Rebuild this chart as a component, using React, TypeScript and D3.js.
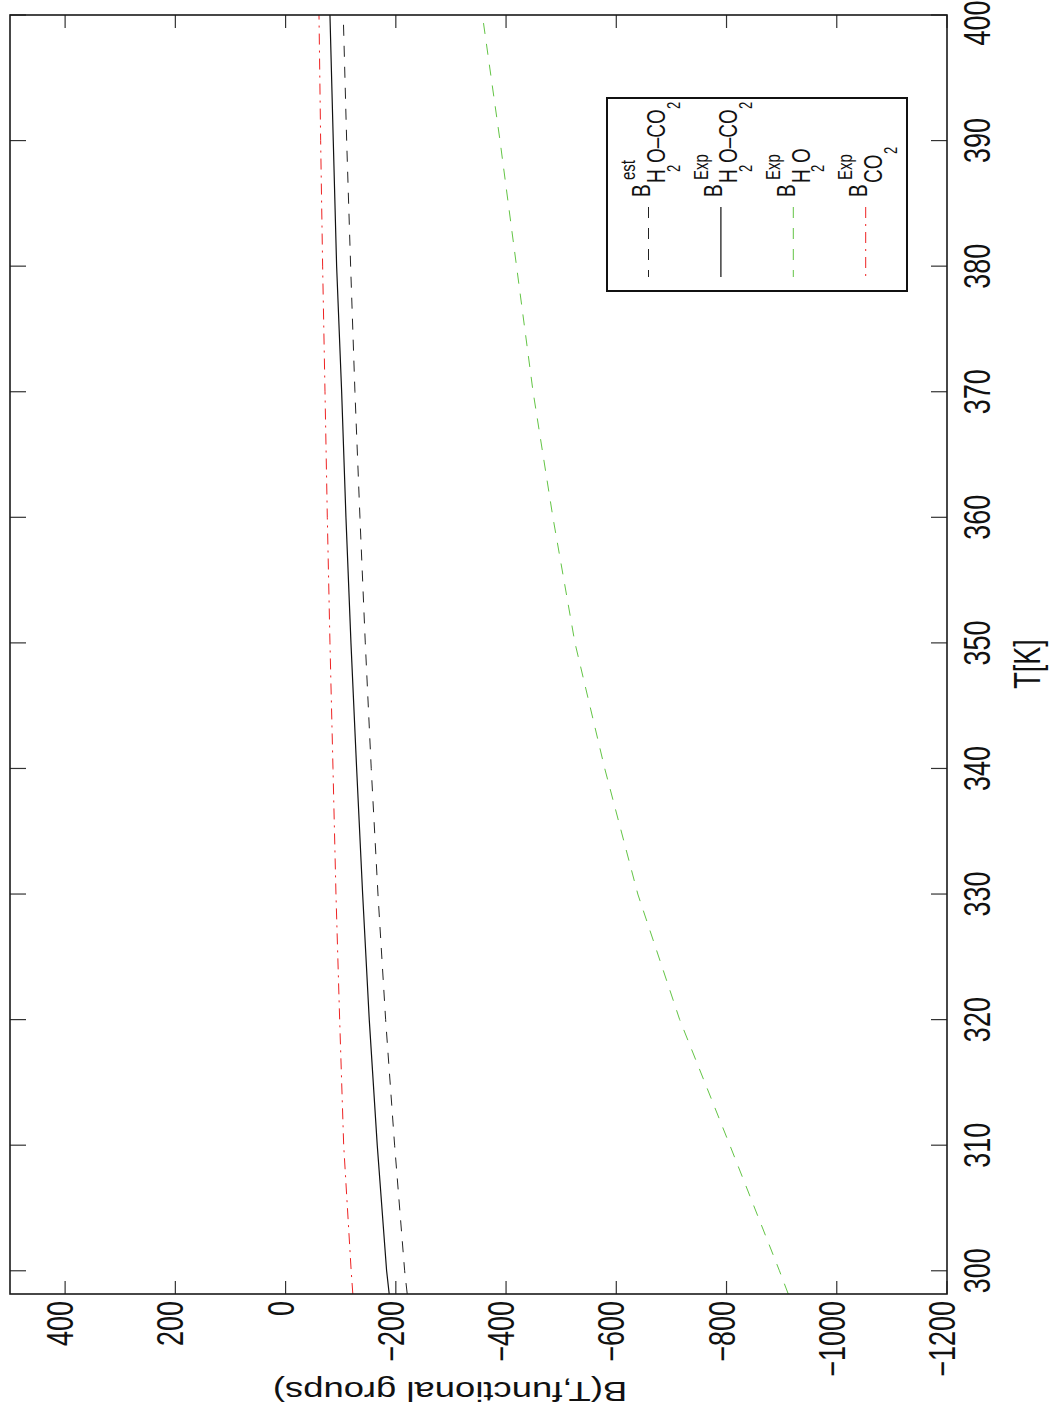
import React from 'react';
import * as d3 from 'd3';

// temperatures [K] and B values
const temps = [298.15, 300, 310, 320, 330, 340, 350, 360, 370, 380, 390, 400];
const bEstH2OCO2 = [-220.7, -216, -197.8, -181.5, -167.6, -155.4, -144.6, -134.9, -125.8, -118, -110.8, -104.6];
const bExpH2OCO2 = [-188, -183.3, -166.3, -151.8, -139.8, -128.9, -118.6, -109.5, -101.7, -92.6, -86.5, -80.5];
const bExpH2O = [-912, -896, -806, -715, -639, -579, -525, -485, -449, -419, -389, -357];
const bExpCO2 = [-122, -119, -105.4, -98.1, -91.4, -86, -80.5, -75.7, -71.5, -67.2, -63.6, -60.6];

const bTicks = [400, 200, 0, -200, -400, -600, -800, -1000, -1200];
const tTicks = [300, 310, 320, 330, 340, 350, 360, 370, 380, 390, 400];

const W = 1052;
const H = 1409;
const SX = 1.35; // horizontal stretch of the exported figure
const FONT = '"Liberation Sans", Arial, sans-serif';

const fmt = (v: number) => (v < 0 ? '\u2212' + Math.abs(v) : String(v));

const series = [
  { name: 'est', values: bEstH2OCO2, color: '#222', dash: '11,10', width: 1 },
  { name: 'exp', values: bExpH2OCO2, color: '#111', dash: null, width: 1.2 },
  { name: 'h2o', values: bExpH2O, color: '#62c444', dash: '11,10', width: 1 },
  { name: 'co2', values: bExpCO2, color: '#ee2222', dash: '11,6,2,6', width: 1 },
];

// legend label pieces: text, local x along reading direction, level
const legendLabels = [
  [['B', 0, 'b'], ['est', 17, 'sup'], ['H', 14, 'sub'], ['2', 25, 'sub2'], ['O\u2013CO', 34, 'sub'], ['2', 88, 'sub2']],
  [['B', 0, 'b'], ['Exp', 17, 'sup'], ['H', 14, 'sub'], ['2', 25, 'sub2'], ['O\u2013CO', 34, 'sub'], ['2', 88, 'sub2']],
  [['B', 0, 'b'], ['Exp', 17, 'sup'], ['H', 14, 'sub'], ['2', 25, 'sub2'], ['O', 34, 'sub']],
  [['B', 0, 'b'], ['Exp', 17, 'sup'], ['CO', 14, 'sub'], ['2', 43, 'sub2']],
];
const levelY: Record<string, number> = { b: 0, sup: -11, sub: 11, sub2: 22 };
const levelSize: Record<string, number> = { b: 19, sup: 15, sub: 19, sub2: 13 };

export default function App() {
  const left = 10, right = 947, top = 15, bottom = 1294;
  const x = d3.scaleLinear().domain([500, -1200]).range([left, right]);
  const y = d3.scaleLinear().domain([298.15, 400]).range([bottom, top]);

  const line = d3.line<[number, number]>()
    .x(d => x(d[1]))
    .y(d => y(d[0]));

  const rot = (px: number, py: number, a: number) =>
    `translate(${px},${py}) scale(${SX},1) rotate(${a})`;

  return (
    <svg width={W} height={H} style={{ position: 'absolute', left: 0, top: 0, background: '#fff' }}
      fontFamily={FONT}>
      <rect x={0} y={0} width={W} height={H} fill="#fff" />

      {/* data lines */}
      {series.map(s => (
        <path key={s.name}
          d={line(temps.map((t, i) => [t, s.values[i]] as [number, number])) || ''}
          fill="none" stroke={s.color} strokeWidth={s.width}
          strokeDasharray={s.dash || undefined} />
      ))}

      {/* ticks on B axis (bottom and top edges) */}
      {bTicks.map(v => (
        <g key={'b' + v} stroke="#333" strokeWidth={1.2}>
          <line x1={x(v)} x2={x(v)} y1={bottom} y2={bottom - 13} />
          <line x1={x(v)} x2={x(v)} y1={top} y2={top + 13} />
        </g>
      ))}
      {/* ticks on T axis (left and right edges) */}
      {tTicks.map(t => (
        <g key={'t' + t} stroke="#333" strokeWidth={1.2}>
          <line x1={left} x2={left + 16} y1={y(t)} y2={y(t)} />
          <line x1={right} x2={right - 16} y1={y(t)} y2={y(t)} />
        </g>
      ))}

      {/* frame */}
      <rect x={left} y={top} width={right - left} height={bottom - top}
        fill="none" stroke="#1a1a1a" strokeWidth={1.6} />

      {/* B tick labels */}
      {bTicks.map(v => (
        <text key={'bl' + v} transform={rot(x(v) + 8, 1301, -90)} textAnchor="end"
          fontSize={27} fill="#111">{fmt(v)}</text>
      ))}
      {/* T tick labels (top one kept inside the page) */}
      {tTicks.map(t => (
        <text key={'tl' + t} transform={rot(990, Math.max(y(t), 23), -90)} textAnchor="middle"
          fontSize={27} fill="#111">{t}</text>
      ))}

      {/* axis titles */}
      <text transform={rot(1040, 664, -90)} textAnchor="middle" fontSize={27} fill="#111">T[K]</text>
      <text transform={rot(450, 1382, 180)} textAnchor="middle" fontSize={27} fill="#111">B(T,functional groups)</text>

      {/* legend */}
      <rect x={607} y={98} width={300} height={193} fill="#fff" stroke="#111" strokeWidth={2} />
      {series.map((s, i) => {
        const lx = 648.5 + 72.4 * i;
        return (
          <g key={'lg' + s.name}>
            <line x1={lx} x2={lx} y1={207} y2={277} stroke={s.color} strokeWidth={s.width}
              strokeDasharray={s.dash || undefined} />
            <text transform={rot(lx + 1.5, 197, -90)} fill="#111">
              {legendLabels[i].map((p, j) => (
                <tspan key={j} x={p[1] as number} y={levelY[p[2] as string]}
                  fontSize={levelSize[p[2] as string]}>{p[0] as string}</tspan>
              ))}
            </text>
          </g>
        );
      })}
    </svg>
  );
}
